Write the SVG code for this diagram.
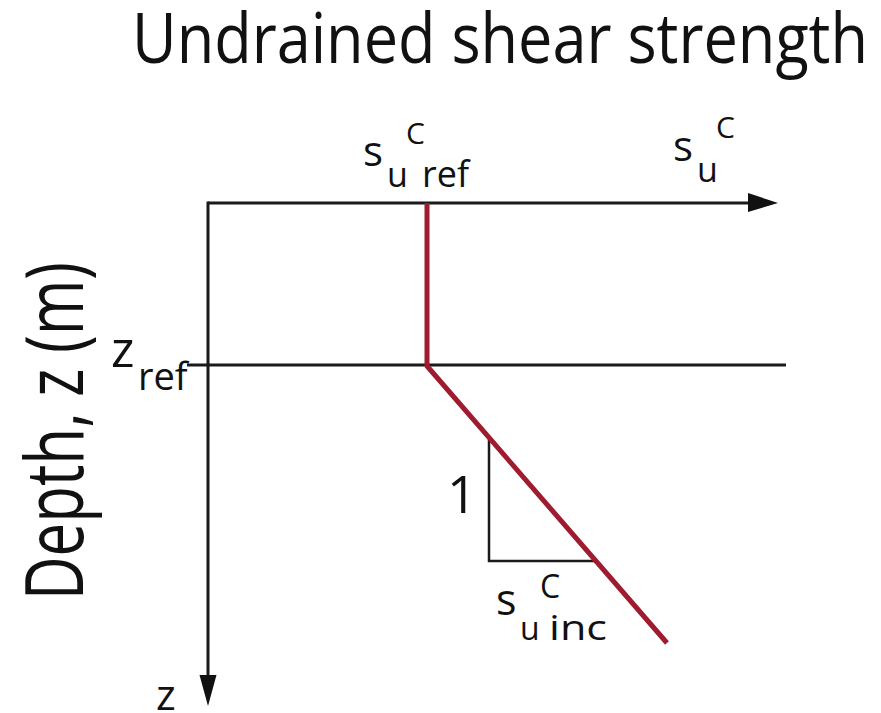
<svg xmlns="http://www.w3.org/2000/svg" width="881" height="713" viewBox="0 0 881 713">
<style>
text{font-family:"Open Sans","Noto Sans","Liberation Sans",sans-serif;fill:#111}
.ax{stroke:#1a1a1a;stroke-width:3;fill:none}
.thin{stroke:#1a1a1a;stroke-width:2.5;fill:none}
.red{stroke:#9e1b30;stroke-width:5;fill:none;stroke-linejoin:round}
.head{fill:#111}
</style>
<rect width="881" height="713" fill="#fff"/>
<g id="title"><text x="132" y="63" font-size="69" textLength="736" lengthAdjust="spacingAndGlyphs">Undrained shear strength</text></g>
<g id="connectors">
<line class="ax" x1="208" y1="203" x2="752" y2="203"/>
<polygon class="head" points="748,193 778,203 748,212"/>
<line class="ax" x1="208" y1="201.5" x2="208" y2="680"/>
<polygon class="head" points="199.5,675 216.5,675 208,706"/>
<line class="ax" x1="187" y1="365" x2="786" y2="365"/>
<polyline class="thin" points="489,440 489,561 596,561"/>
<polyline class="red" points="427,203 427,366 667,643"/>
</g>
<g id="y-label"><text transform="translate(83,600) rotate(-90)" font-size="80" textLength="338" lengthAdjust="spacingAndGlyphs">Depth, z (m)</text></g>
<g id="su-ref">
<text x="363" y="166" font-size="42">s</text>
<text x="387" y="187" font-size="34">u</text>
<text x="406" y="144" font-size="30">C</text>
<text x="422" y="187" font-size="36">ref</text>
</g>
<g id="su-axis">
<text x="673" y="161" font-size="42">s</text>
<text x="697" y="182" font-size="34">u</text>
<text x="716" y="138" font-size="30">C</text>
</g>
<g id="zref">
<text x="111" y="367" font-size="50">z</text>
<text x="138" y="390" font-size="38">ref</text>
</g>
<g id="z-label"><text x="156" y="710" font-size="42">z</text></g>
<g id="one"><text x="447" y="513" font-size="52">1</text></g>
<g id="su-inc">
<text x="496" y="615" font-size="43">s</text>
<text x="520" y="640" font-size="32">u</text>
<text x="540" y="598" font-size="32">C</text>
<text x="549" y="640" font-size="35" textLength="58" lengthAdjust="spacingAndGlyphs">inc</text>
</g>
</svg>
